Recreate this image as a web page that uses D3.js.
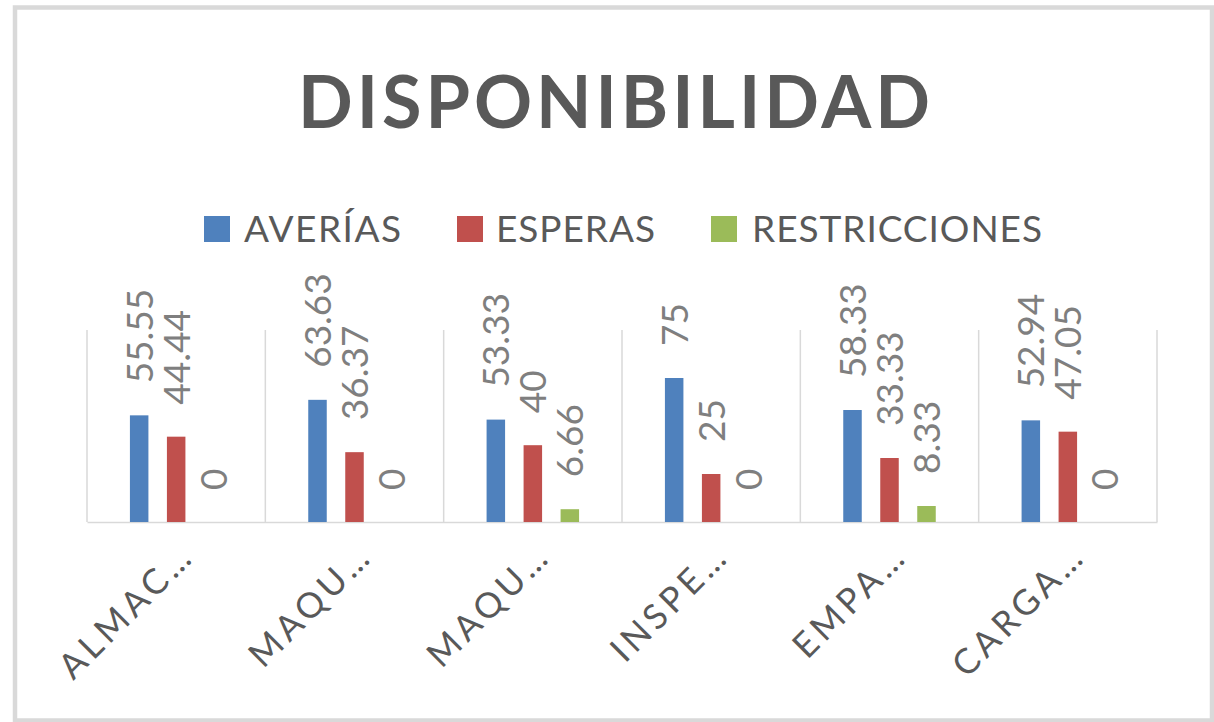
<!DOCTYPE html>
<html>
<head>
<meta charset="utf-8">
<script src="https://cdn.jsdelivr.net/npm/d3@7"></script>
<style>
  body { margin: 0; background: #fff; }
  text { font-family: Lato, "Open Sans", sans-serif; }
</style>
</head>
<body>
<div id="chart"></div>
<script>
// data
var categories = ['ALMAC\u2026', 'MAQU\u2026', 'MAQU\u2026', 'INSPE\u2026', 'EMPA\u2026', 'CARGA\u2026'];
var seriesNames = ['AVERÍAS', 'ESPERAS', 'RESTRICCIONES'];
var averias = [55.55, 63.63, 53.33, 75, 58.33, 52.94];
var esperas = [44.44, 36.37, 40, 25, 33.33, 47.05];
var restricciones = [0, 0, 6.66, 0, 8.33, 0];
var colors = ['#4f81bd', '#c0504d', '#9bbb59'];

var width = 1214,
    height = 722,
    margin = {left: 87, right: 57, top: 330, bottom: 200};

var chartWidth = width - margin.left - margin.right;
var chartHeight = height - margin.top - margin.bottom;

var seriesValues = [averias, esperas, restricciones];
var data = categories.map(function(c, i) {
    return seriesNames.map(function(s, j) {
        return {cat: i, series: s, value: seriesValues[j][i], color: colors[j]};
    });
});

var svg = d3.select('#chart').append('svg')
    .attr('width', width)
    .attr('height', height);

// chart border
svg.append('rect')
    .attr('x', 15).attr('y', 7.5)
    .attr('width', 1197).attr('height', 713)
    .attr('fill', '#fff')
    .attr('stroke', '#d9d9d9')
    .attr('stroke-width', 4.5);

// title
svg.append('text')
    .attr('x', 614).attr('y', 128)
    .attr('text-anchor', 'middle')
    .attr('font-size', 72)
    .attr('font-weight', 'bold')
    .attr('fill', '#595959')
    .attr('textLength', 632)
    .text('DISPONIBILIDAD');

// legend
var legendPos = [{sq: 204, tx: 244, w: 157}, {sq: 457, tx: 496, w: 159}, {sq: 711, tx: 752, w: 290}];
var legend = svg.append('g').attr('class', 'legend');
seriesNames.forEach(function(s, j) {
    legend.append('rect')
        .attr('x', legendPos[j].sq).attr('y', 216)
        .attr('width', 26).attr('height', 26)
        .attr('fill', colors[j]);
    legend.append('text')
        .attr('x', legendPos[j].tx).attr('y', 242)
        .attr('font-size', 37)
        .attr('fill', '#595959')
        .attr('textLength', legendPos[j].w)
        .text(s);
});

var g = svg.append('g')
    .attr('transform', 'translate(' + margin.left + ',' + margin.top + ')');

var xScale = d3.scaleBand()
    .domain(d3.range(categories.length))
    .range([0, chartWidth]);

var xSub = d3.scaleBand()
    .domain(seriesNames)
    .range([-55.5, 55.5])
    .paddingInner(0.5)
    .paddingOuter(0.25);

var yScale = d3.scaleLinear()
    .domain([0, 100])
    .range([chartHeight, 0]);

// category separators
g.selectAll('.sep')
    .data(d3.range(categories.length + 1))
    .enter().append('line')
    .attr('class', 'sep')
    .attr('x1', (d) => d * xScale.step())
    .attr('x2', (d) => d * xScale.step())
    .attr('y1', 0)
    .attr('y2', chartHeight)
    .attr('stroke', '#d9d9d9')
    .attr('stroke-width', 1.5);

// x axis
var xAxis = d3.axisBottom(xScale)
    .tickSize(0)
    .tickFormat((i) => categories[i]);

var axisG = g.append('g')
    .attr('class', 'axis x')
    .attr('transform', 'translate(0,' + chartHeight + ')')
    .call(xAxis);

axisG.select('.domain')
    .attr('stroke', '#d9d9d9')
    .attr('stroke-width', 1.5);

axisG.selectAll('text')
    .attr('font-family', 'Lato, sans-serif')
    .attr('font-size', 35)
    .attr('fill', '#595959')
    .attr('letter-spacing', 4.5)
    .style('text-anchor', 'end')
    .attr('y', 0)
    .attr('dy', 0)
    .attr('transform', 'translate(20,36) rotate(-45)');

// bars
var groups = g.selectAll('.cat')
    .data(data)
    .enter().append('g')
    .attr('class', 'cat')
    .attr('transform', (d, i) => 'translate(' + (xScale(i) + xScale.bandwidth() / 2) + ',0)');

groups.selectAll('rect')
    .data((d) => d)
    .enter().append('rect')
    .attr('x', (d) => xSub(d.series))
    .attr('width', xSub.bandwidth())
    .attr('y', (d) => yScale(d.value))
    .attr('height', (d) => chartHeight - yScale(d.value))
    .attr('fill', (d) => d.color);

// value labels, rotated
groups.selectAll('.lbl')
    .data((d) => d)
    .enter().append('text')
    .attr('class', 'lbl')
    .attr('font-size', 37)
    .attr('fill', '#7f7f7f')
    .attr('transform', (d) => 'translate(' + (xSub(d.series) + xSub.bandwidth() / 2 + 13.5) + ',' + (yScale(d.value) - 32) + ') rotate(-90)')
    .text((d) => d.value);
</script>
</body>
</html>
